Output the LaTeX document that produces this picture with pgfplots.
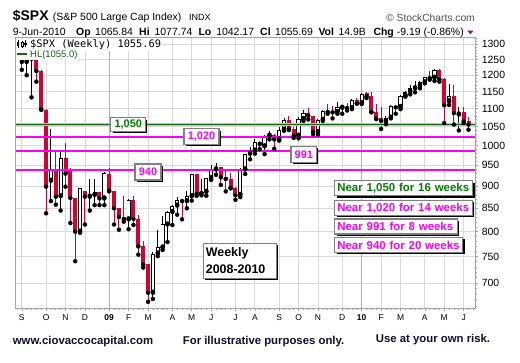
\documentclass[border=0pt]{standalone}
\usepackage{fontspec}
\setmainfont{Liberation Sans}
\newfontfamily\monofont{DejaVu Sans Mono}
\usepackage{pgfplots}
\usepackage{pgfplotstable}
\pgfplotsset{compat=1.18}
\usetikzlibrary{shadows}

\definecolor{cred}{RGB}{212,0,48}
\definecolor{hlgreen}{RGB}{20,100,20}
\definecolor{hlhalo}{RGB}{175,210,175}
\definecolor{mag}{RGB}{250,0,250}
\definecolor{txtgreen}{RGB}{0,125,0}
\definecolor{gridgray}{RGB}{217,217,217}
\definecolor{yeargray}{RGB}{175,175,175}
\definecolor{axgray}{RGB}{165,165,165}
\definecolor{boxgray}{RGB}{128,128,128}
\definecolor{foot}{RGB}{16,16,40}

% weekly candles, index 0 = week ending 5-Sep-2008
\pgfplotstableread{
i o h l c
0 1287 1303 1217 1242
3 1255 1256 1180 1213
4 1213 1215 1097 1099
5 1097 1100 839 899
7 941 985 858 876
9 968 1007 899 930
10 936 943 818 873
11 873 874 741 800
13 888 889 815 876
16 887 887 857 872
18 930 943 888 890
19 890 890 815 850
20 850 851 804 831
21 832 877 821 826
23 869 877 814 827
24 827 836 754 770
25 770 780 729 735
26 735 736 667 683
33 869 871 826 866
36 929 930 878 882
41 946 946 903 921
42 921 935 888 917
43 918 931 895 896
44 896 898 869 879
49 1010 1013 991 1004
52 1028 1031 992 1016
55 1068 1080 1041 1044
56 1044 1049 1020 1025
59 1088 1101 1070 1080
60 1080 1081 1030 1036
63 1094 1113 1086 1091
64 1094 1107 1073 1090
67 1106 1117 1095 1102
69 1126 1130 1115 1115
71 1145 1150 1131 1136
72 1136 1150 1090 1091
73 1092 1115 1071 1073
74 1073 1104 1044 1066
77 1109 1112 1086 1104
84 1195 1214 1186 1191
86 1217 1220 1180 1187
87 1188 1190 1060 1110
89 1136 1170 1056 1088
91 1090 1105 1060 1065
92 1066 1078 1042 1056
}\dn

\pgfplotstableread{
i o h l c
1 1242 1274 1200 1252
2 1252 1265 1133 1255
6 913 1045 866 941
8 877 984 845 968
12 800 896 798 896
14 876 918 845 880
15 880 918 857 887
17 872 934 857 931
22 826 870 805 869
27 683 758 672 756
28 756 804 751 768
29 768 833 763 816
30 815 845 779 842
31 842 857 814 856
32 856 875 836 869
34 866 888 850 877
35 877 930 867 929
37 882 916 879 887
38 887 920 878 919
39 919 951 915 940
40 940 956 927 946
45 880 943 875 940
46 940 979 929 979
47 979 996 965 987
48 987 1018 979 1010
50 998 1027 978 1026
51 1026 1039 1016 1028
53 1016 1049 1013 1042
54 1042 1074 1039 1068
57 1026 1076 1019 1071
58 1071 1097 1066 1087
61 1036 1071 1029 1069
62 1069 1097 1066 1093
65 1091 1120 1086 1106
66 1103 1111 1086 1106
68 1102 1127 1099 1126
70 1116 1145 1114 1144
75 1065 1080 1057 1075
76 1075 1112 1073 1109
78 1105 1139 1099 1138
79 1138 1151 1135 1150
80 1150 1170 1142 1160
81 1160 1181 1148 1167
82 1167 1181 1160 1178
83 1178 1194 1175 1194
85 1192 1218 1182 1217
88 1122 1173 1111 1136
90 1084 1104 1040 1089
}\up

% support levels: y value, and a second copy for drawing
\pgfplotstableread{
x y
-1.3 1022
93.4 1022
}\levA
\pgfplotstableread{
x y
-1.3 987
93.4 987
}\levB
\pgfplotstableread{
x y
-1.3 939
93.4 939
}\levC
\pgfplotstableread{
x y
-1.3 1055
93.4 1055
}\levH

\tikzset{annbox/.style={draw=boxgray, line width=1.1bp, fill=white, inner sep=0pt,
  font=\fontsize{11}{13}\selectfont\bfseries,
  drop shadow={shadow xshift=1.8bp, shadow yshift=-1.8bp, fill=black, opacity=1}}}

\begin{document}
\begin{tikzpicture}
\useasboundingbox (0,0) rectangle (520bp,363bp);
\fill[white] (0,0) rectangle (520bp,363bp);
\begin{axis}[
  at={(15.5bp,54.7bp)}, anchor=south west,
  width=459.8bp, height=271bp, scale only axis,
  xmin=-1.3, xmax=93.4,
  ymode=log, ymin=656, ymax=1324,
  axis line style={draw=axgray, line width=0.8bp},
  xtick={0,5,9,13,18,22,26,31,35,39,44,48,53,57,61,66,70,74,78,83,87,91},
  xticklabels={S,O,N,D,\textbf{09},F,M,A,M,J,J,A,S,O,N,D,\textbf{10},F,M,A,M,J},
  minor xtick={-1,0,...,93},
  xtick pos=bottom,
  ytick={700,750,800,850,900,950,1000,1050,1100,1150,1200,1250,1300},
  yticklabels={700,750,800,850,900,950,1000,1050,1100,1150,1200,1250,1300},
  minor ytick={660,670,680,690,710,720,730,740,760,770,780,790,810,820,830,840,860,870,880,890,910,920,930,940,960,970,980,990,1010,1020,1030,1040,1060,1070,1080,1090,1110,1120,1130,1140,1160,1170,1180,1190,1210,1220,1230,1240,1260,1270,1280,1290,1310,1320},
  ytick pos=right, yticklabel pos=right,
  tick align=outside,
  major tick length=3bp, minor tick length=1.8bp,
  tick style={draw=axgray, line width=0.6bp},
  grid=major, major grid style={draw=gridgray, line width=0.8bp},
  extra x ticks={18,70}, extra x tick labels={},
  extra x tick style={grid=major, major grid style={draw=yeargray, line width=0.8bp}, major tick length=0pt},
  xticklabel style={font=\fontsize{8.5}{10}\selectfont, text=black},
  yticklabel style={font=\fontsize{10.5}{12}\selectfont, text=black},
]
% down candles: wick and filled red body
\addplot[only marks, mark=none, forget plot,
  error bars/.cd, y dir=plus, y explicit, error mark=none,
  error bar style={draw=cred, line width=1bp}]
  table[x=i, y=l, y error expr=\thisrow{h}-\thisrow{l}] {\dn};
\addplot[only marks, mark=none, forget plot,
  error bars/.cd, y dir=plus, y explicit, error mark=none,
  error bar style={draw=cred, line width=4bp}]
  table[x=i, y=c, y error expr=\thisrow{o}-\thisrow{c}] {\dn};
% up candles: black wick, hollow body (black body, white inside)
\addplot[only marks, mark=none, forget plot,
  error bars/.cd, y dir=plus, y explicit, error mark=none,
  error bar style={draw=black, line width=1bp}]
  table[x=i, y=l, y error expr=\thisrow{h}-\thisrow{l}] {\up};
\addplot[only marks, mark=none, forget plot,
  error bars/.cd, y dir=plus, y explicit, error mark=none,
  error bar style={draw=black, line width=4.2bp}]
  table[x=i, y=o, y error expr=\thisrow{c}-\thisrow{o}] {\up};
\addplot[only marks, mark=none, forget plot,
  error bars/.cd, y dir=plus, y explicit, error mark=none,
  error bar style={draw=white, line width=2.3bp}]
  table[x=i, y expr=\thisrow{o}*1.0025, y error expr={max(\thisrow{c}/1.0025-\thisrow{o}*1.0025,0)}] {\up};
% horizontal levels
\addplot[mag, no markers, line width=1.9bp, forget plot] table[x=x,y=y] {\levA};
\addplot[mag, no markers, line width=1.9bp, forget plot] table[x=x,y=y] {\levB};
\addplot[mag, no markers, line width=1.9bp, forget plot] table[x=x,y=y] {\levC};
\addplot[hlhalo, no markers, line width=3bp, forget plot] table[x=x,y=y] {\levH};
\addplot[hlgreen, no markers, line width=1bp, forget plot] table[x=x,y=y] {\levH};
\end{axis}

\begin{scope}[x=1bp,y=-1bp,shift={(0,363bp)}]
% header line 1
\node[anchor=base west, inner sep=0pt, font=\fontsize{14}{16}\selectfont\bfseries] at (12.7,20.7) {\$SPX};
\node[anchor=base west, inner sep=0pt, font=\fontsize{10.5}{12}\selectfont] at (52.7,20.7) {(S\&P 500 Large Cap Index)};
\node[anchor=base west, inner sep=0pt, font=\fontsize{9}{11}\selectfont] at (189,20.7) {INDX};
\node[anchor=base east, inner sep=0pt, font=\fontsize{10.3}{12}\selectfont, text={rgb,255:red,80;green,80;blue,80}] at (475,21.3) {© StockCharts.com};
% header line 2
\begin{scope}[every node/.style={anchor=base west, inner sep=0pt, font=\fontsize{10.5}{12}\selectfont}]
\node at (12.7,35.7) {9-Jun-2010};
\node[font=\fontsize{10.5}{12}\selectfont\bfseries] at (76,35.7) {Op};
\node at (95,35.7) {1065.84};
\node[font=\fontsize{10.5}{12}\selectfont\bfseries] at (139,35.7) {Hi};
\node at (154.4,35.7) {1077.74};
\node[font=\fontsize{10.5}{12}\selectfont\bfseries] at (198.3,35.7) {Lo};
\node at (216.1,35.7) {1042.17};
\node[font=\fontsize{10.5}{12}\selectfont\bfseries] at (260,35.7) {Cl};
\node at (275,35.7) {1055.69};
\node[font=\fontsize{10.5}{12}\selectfont\bfseries] at (318.3,35.7) {Vol};
\node at (338.3,35.7) {14.9B};
\node[font=\fontsize{10.5}{12}\selectfont\bfseries] at (373.3,35.7) {Chg};
\node at (396.7,35.7) {-9.19 (-0.86\%)};
\end{scope}
\fill[cred] (467.2,30.6) -- (473.6,30.6) -- (470.4,34.2) -- cycle;
% legend in plot
\node[anchor=base west, inner sep=1.2bp, fill=white, font=\monofont\fontsize{10.4}{12}\selectfont] at (28.8,47.5) {\$SPX (Weekly) 1055.69};
\node[anchor=base west, inner sep=1.2bp, fill=white, font=\fontsize{9.5}{11}\selectfont, text=hlgreen] at (28.8,57.2) {HL(1055.0)};
\fill[white] (16,39) rectangle (28.8,59.8);
\draw[hlgreen, line width=2bp] (17.3,53.6) -- (27.3,53.6);
\draw[black, line width=0.7bp] (18,40.5) -- (18,48);
\fill[black] (16.8,42) rectangle (19.2,46);
\draw[black, line width=0.7bp] (22,41) -- (22,48);
\draw[black, line width=0.6bp, fill=white] (20.9,42.8) rectangle (23.1,46.5);
\draw[black, line width=0.7bp] (25.5,40.5) -- (25.5,47.5);
\fill[black] (24.4,43) rectangle (26.6,45.5);
% level labels
\node[annbox, minimum width=34.7bp, minimum height=13.7bp, text=txtgreen] at (128.3,124.8) {1,050};
\node[annbox, minimum width=35bp, minimum height=15.4bp, text=mag] at (201.5,136.5) {1,020};
\node[annbox, minimum width=25.7bp, minimum height=16bp, text=mag] at (303.8,154.5) {991};
\node[annbox, minimum width=26bp, minimum height=16bp, text=mag] at (148,172) {940};
% right side notes
\begin{scope}[every node/.style={annbox, anchor=west, inner xsep=2.5bp, minimum height=15bp, align=left, font=\fontsize{11.5}{13}\selectfont\bfseries}]
\node[text width=133bp, text=txtgreen] at (334.3,188.3) {Near 1,050 for 16 weeks};
\node[text width=132.4bp, text=mag] at (334.3,207.8) {Near 1,020 for 14 weeks};
\node[text width=117.4bp, text=mag] at (334.3,226.5) {Near 991 for 8 weeks};
\node[text width=123bp, text=mag] at (334.3,245) {Near 940 for 20 weeks};
\end{scope}
\node[annbox, minimum width=72.7bp, minimum height=35bp, inner xsep=2.5bp, text width=67.7bp, align=left, font=\fontsize{12.5}{16.6}\selectfont\bfseries] at (239.7,260.8) {Weekly\\2008-2010};
% footer
\node[anchor=base west, inner sep=0pt, font=\fontsize{11.4}{13}\selectfont\bfseries, text=foot] at (12.7,344.3) {www.ciovaccocapital.com};
\node[anchor=base west, inner sep=0pt, font=\fontsize{11.4}{13}\selectfont\bfseries, text=foot] at (182.7,345) {For illustrative purposes only.};
\node[anchor=base west, inner sep=0pt, font=\fontsize{11.4}{13}\selectfont\bfseries, text=foot] at (375.7,343) {Use at your own risk.};
\end{scope}
\end{tikzpicture}
\end{document}
